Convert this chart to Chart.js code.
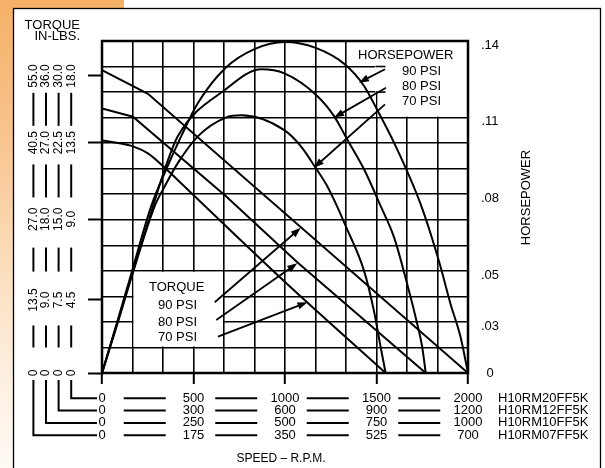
<!DOCTYPE html>
<html><head><meta charset="utf-8">
<script src="https://cdn.jsdelivr.net/npm/chart.js@4.4.1/dist/chart.umd.min.js"></script>
<style>
html,body{margin:0;padding:0;}
body{width:605px;height:468px;overflow:hidden;position:relative;
 background: linear-gradient(to bottom,#f5b066 0%,#f8c590 30%,#fbdcb8 55%,#fdeedd 78%,#fffaf5 100%) 0 0/124px 100% no-repeat, #fff;}
canvas{position:absolute;left:0;top:0;}
</style></head><body>
<canvas id="c" width="605" height="468"></canvas>
<script>
// ---------- tick labels ----------
const rpmLabels20 = ['0','500','1000','1500','2000'];
const rpmLabels12 = ['0','300','600','900','1200'];
const rpmLabels10 = ['0','250','500','750','1000'];
const rpmLabels07 = ['0','175','350','525','700'];
const modelNames = ['H10RM20FF5K','H10RM12FF5K','H10RM10FF5K','H10RM07FF5K'];
const torqueTickValues = [0, 4.5, 9, 13.5, 18];
const torqueLabels20 = ['0','4.5','9.0','13.5','18.0'];
const torqueLabels12 = ['0','7.5','15.0','22.5','30.0'];
const torqueLabels10 = ['0','9.0','18.0','27.0','36.0'];
const torqueLabels07 = ['0','13.5','27.0','40.5','55.0'];
const hpTickValues = [0, 0.03, 0.05, 0.08, 0.11, 0.14];
const hpTickLabels = ['0','.03','.05','.08','.11','.14'];
const pressures = ['90 PSI','80 PSI','70 PSI'];

// ---------- series (speed in R.P.M., torque in in-lbs, horsepower) ----------
const torque90Rpm = [0, 251, 2000];
const torque90 = [18.4, 16.8, 0];
const torque80Rpm = [0, 169, 676, 1067, 1769];
const torque80 = [15.8, 15.25, 10.37, 6.6, 0];
const torque70Rpm = [0, 87, 169, 251, 333, 415, 994, 1550];
const torque70 = [13.65, 13.48, 13.28, 12.87, 12.13, 11.29, 5.56, 0];

const hp90Rpm = [0, 76, 158, 269, 351, 433, 525, 676, 836, 998, 1168, 1328, 1432, 1504, 1596, 1741, 1841, 1905, 1960, 2000];
const hp90 = [0, .030, .050, .0771, .0915, .1044, .1174, .1311, .1385, .1412, .1389, .1324, .1240, .1146, .1018, .0779, .0555, .0386, .0228, 0];
const hp80Rpm = [0, 78, 163, 279, 343, 415, 676, 870, 997, 1176, 1268, 1340, 1432, 1523, 1596, 1668, 1723, 1750, 1769];
const hp80 = [0, .030, .050, .0771, .0915, .1044, .1227, .1305, .1289, .1201, .1122, .1031, .0915, .0771, .0648, .0464, .0308, .0164, 0];
const hp70Rpm = [0, 80, 165, 288, 343, 415, 525, 676, 761, 994, 1086, 1168, 1231, 1279, 1332, 1432, 1486, 1523, 1550];
const hp70 = [0, .030, .050, .0771, .0849, .0940, .1044, .1116, .1125, .1068, .1005, .0920, .0849, .0779, .0692, .0516, .0360, .0164, 0];

// arrow tips of the in-chart keys (speed, value)
const hpArrowTips = [[1404, .1253], [1268, .1116], [1158, .0921]];
const torqueArrowTips = [[1086, 8.52], [1067, 6.55], [1123, 4.36]];

// ---------- axis mapping (value -> grid row, 13 rows) ----------
const KNOTS = {
  y:  [[0,0],[4.5,2.86],[9,6.02],[13.5,9.02],[18,11.63],[20.36,13]],
  y2: [[0,0],[.03,1.83],[.05,3.84],[.08,6.82],[.11,9.84],[.14,12.84],[.1416,13]]
};
class KnotScale extends Chart.LinearScale {
  static id = 'knot';
  static defaults = Chart.LinearScale.defaults;
  _rowOf(v) {
    const k = KNOTS[this.id]; let i = 1;
    while (i < k.length - 1 && v > k[i][0]) i++;
    const a = k[i-1], b = k[i];
    return a[1] + (v - a[0]) / (b[0] - a[0]) * (b[1] - a[1]);
  }
  getPixelForValue(v) {
    if (v === null || v === undefined || isNaN(v)) return NaN;
    return this.getPixelForDecimal(this._rowOf(v) / 13);
  }
  getValueForPixel(p) {
    const r = this.getDecimalForPixel(p) * 13, k = KNOTS[this.id]; let i = 1;
    while (i < k.length - 1 && r > k[i][1]) i++;
    const a = k[i-1], b = k[i];
    return a[0] + (r - a[1]) / (b[1] - a[1]) * (b[0] - a[0]);
  }
}
Chart.register(KnotScale);

const FONT = "'Liberation Sans', Arial, Helvetica, sans-serif";
Chart.defaults.font.family = FONT;
Chart.defaults.color = '#000';

function series(rpm, vals, axis, smooth) {
  return {
    data: rpm.map((r, i) => ({x: r, y: vals[i]})),
    yAxisID: axis, borderColor: '#000', borderWidth: 2, pointRadius: 0, fill: false,
    tension: 0, cubicInterpolationMode: smooth ? 'monotone' : 'default'
  };
}

function arrow(c, x1, y1, x2, y2) {
  const a = Math.atan2(y2 - y1, x2 - x1), L = 10, W = 3.6;
  c.beginPath(); c.moveTo(x1, y1); c.lineTo(x2 - 6 * Math.cos(a), y2 - 6 * Math.sin(a)); c.stroke();
  c.beginPath(); c.moveTo(x2, y2);
  c.lineTo(x2 - L * Math.cos(a) + W * Math.sin(a), y2 - L * Math.sin(a) - W * Math.cos(a));
  c.lineTo(x2 - L * Math.cos(a) - W * Math.sin(a), y2 - L * Math.sin(a) + W * Math.cos(a));
  c.closePath(); c.fill();
}
function seg(c, x1, y1, x2, y2) { c.beginPath(); c.moveTo(x1, y1); c.lineTo(x2, y2); c.stroke(); }

const colX = [33.4, 46, 58.6, 71.2];
const deco = {
  id: 'deco',
  beforeDraw(chart) {
    const c = chart.ctx; c.save();
    c.fillStyle = '#fff'; c.fillRect(13.5, 8.5, 587, 470);
    c.strokeStyle = '#000'; c.lineWidth = 1.3; c.strokeRect(13.5, 8.5, 587, 470);
    c.restore();
  },
  beforeDatasetsDraw(chart) {
    const c = chart.ctx, x = chart.scales.x, g = chart.scales.yGrid;
    const col = k => x.getPixelForValue(k * 2000 / 12), row = r => g.getPixelForValue(r);
    c.save(); c.fillStyle = '#fff';
    c.fillRect(col(1) + 1, row(4) + 1, col(4) - col(1) - 2, row(1) - row(4) - 2);
    c.fillRect(col(9) - 1.5, row(13), col(12) - col(9) + 1.5, row(11) - row(13) + 1);
    c.fillRect(col(9) + 1, row(11), col(12) - col(9) - 1, row(10) - row(11) - 1);
    c.strokeStyle = '#000'; c.lineWidth = 1.6;
    seg(c, col(9) - 1, row(12), col(9) + 9, row(12));
    seg(c, col(9) - 1, row(11), col(9) + 9, row(11));
    c.restore();
  },
  afterDatasetsDraw(chart) {
    const c = chart.ctx, a = chart.chartArea, x = chart.scales.x, y = chart.scales.y, y2 = chart.scales.y2;
    c.save();
    c.strokeStyle = '#000'; c.fillStyle = '#000';
    c.lineWidth = 2.5; c.strokeRect(a.left, a.top, a.right - a.left, a.bottom - a.top);

    // keys
    c.font = '13px ' + FONT; c.textBaseline = 'middle'; c.textAlign = 'left';
    c.fillText('HORSEPOWER', 358, 55.5);
    [71, 86.5, 101.5].forEach((yy, i) => c.fillText(pressures[i], 402, yy));
    c.fillText('TORQUE', 149, 287.5);
    [305, 322, 337.5].forEach((yy, i) => c.fillText(pressures[i], 158, yy));
    c.lineWidth = 1.8;
    const hpTail = [[385, 69.3], [386, 87.7], [385, 104.3]];
    hpArrowTips.forEach(([r, v], i) => arrow(c, hpTail[i][0], hpTail[i][1], x.getPixelForValue(r), y2.getPixelForValue(v)));
    const tqTail = [[214.7, 302.3], [216.3, 320], [218, 336.7]];
    torqueArrowTips.forEach(([r, v], i) => arrow(c, tqTail[i][0], tqTail[i][1], x.getPixelForValue(r), y.getPixelForValue(v)));

    // left scale bars and brackets
    const tp = torqueTickValues.map(v => y.getPixelForValue(v));
    const barLen = [22, 24, 33, 33];
    c.lineWidth = 2;
    for (let i = 0; i < 4; i++) {
      const m = (tp[i] + tp[i + 1]) / 2;
      colX.forEach(cx => seg(c, cx, m - barLen[i] / 2, cx, m + barLen[i] / 2));
    }
    const lh = 13 * 0.95;
    const rowY = [0, 1, 2, 3].map(r => x.top + 19 + lh * (r + 0.5));
    colX.forEach((cx, i) => {
      const ry = rowY[3 - i];
      c.beginPath(); c.moveTo(cx, tp[0] + 7); c.lineTo(cx, ry); c.lineTo(97, ry); c.stroke();
    });
    // speed row dashes
    for (let r = 0; r < 4; r++) for (let k = 0; k < 4; k++) {
      const m = (x.getPixelForValue(k * 500) + x.getPixelForValue((k + 1) * 500)) / 2 - 3;
      seg(c, m - 21, rowY[r], m + 21, rowY[r]);
    }
    c.textAlign = 'left';
    modelNames.forEach((m, r) => c.fillText(m, 498, rowY[r]));

    // titles
    c.textAlign = 'right';
    c.fillText('TORQUE', 80, 25);
    c.fillText('IN-LBS.', 80, 36.5);
    c.save(); c.translate(526, 197.5); c.rotate(-Math.PI / 2); c.textAlign = 'center';
    c.fillText('HORSEPOWER', 0, 0); c.restore();
    c.font = '12px ' + FONT; c.textAlign = 'center';
    c.fillText('SPEED \u2013 R.P.M.', 281, 459);
    c.restore();
  }
};

new Chart(document.getElementById('c'), {
  type: 'line',
  data: { datasets: [
    series(torque90Rpm, torque90, 'y', false),
    series(torque80Rpm, torque80, 'y', false),
    series(torque70Rpm, torque70, 'y', true),
    series(hp90Rpm, hp90, 'y2', true),
    series(hp80Rpm, hp80, 'y2', true),
    series(hp70Rpm, hp70, 'y2', true)
  ]},
  options: {
    responsive: false, animation: false, devicePixelRatio: 1,
    layout: { padding: { top: 41, left: 0, right: 0, bottom: 0 } },
    plugins: { legend: { display: false }, tooltip: { enabled: false } },
    scales: {
      x: {
        type: 'linear', min: 0, max: 2000,
        afterBuildTicks: s => { s.ticks = Array.from({length: 13}, (_, i) => ({value: (i * 2000) / 12})); },
        afterFit: s => { s.height = 95; },
        grid: { color: '#000', lineWidth: 1.6, tickLength: 11, tickWidth: 2,
                tickColor: ctx => (ctx.index % 3 === 0 ? '#000' : 'rgba(0,0,0,0)') },
        border: { display: false },
        ticks: { autoSkip: false, maxRotation: 0, minRotation: 0, padding: 8,
                 font: { size: 13, lineHeight: 0.95 },
                 callback: (v, i) => {
                   if (i % 3) return '';
                   const j = i / 3;
                   return [rpmLabels20[j], rpmLabels12[j], rpmLabels10[j], rpmLabels07[j]];
                 } }
      },
      y: {
        type: 'knot', position: 'left', min: 0, max: 20.36,
        afterBuildTicks: s => { s.ticks = torqueTickValues.map(v => ({value: v})); },
        afterFit: s => { s.width = 102; s.paddingTop = 0; s.paddingBottom = 0; },
        grid: { drawOnChartArea: false, tickLength: 14, tickColor: '#000', tickWidth: 2 },
        border: { display: false },
        ticks: { autoSkip: false, minRotation: 90, maxRotation: 90, crossAlign: 'center', padding: 24,
                 font: { size: 12, lineHeight: 1.05 },
                 callback: (v, i) => [torqueLabels07[i], torqueLabels10[i], torqueLabels12[i], torqueLabels20[i]] }
      },
      yGrid: {
        type: 'linear', position: 'left', min: 0, max: 13,
        afterFit: s => { s.width = 0; s.paddingTop = 0; s.paddingBottom = 0; },
        ticks: { stepSize: 1, display: false },
        grid: { color: '#000', lineWidth: 1.6, drawTicks: false },
        border: { display: false }
      },
      y2: {
        type: 'knot', position: 'right', min: 0, max: 0.1416,
        afterBuildTicks: s => { s.ticks = hpTickValues.map(v => ({value: v})); },
        afterFit: s => { s.width = 137; s.paddingTop = 0; s.paddingBottom = 0; },
        grid: { drawOnChartArea: false, drawTicks: false },
        border: { display: false },
        ticks: { autoSkip: false, crossAlign: 'center', padding: 13, font: { size: 13 },
                 callback: (v, i) => hpTickLabels[i] }
      }
    }
  },
  plugins: [deco]
});
</script>
</body></html>
